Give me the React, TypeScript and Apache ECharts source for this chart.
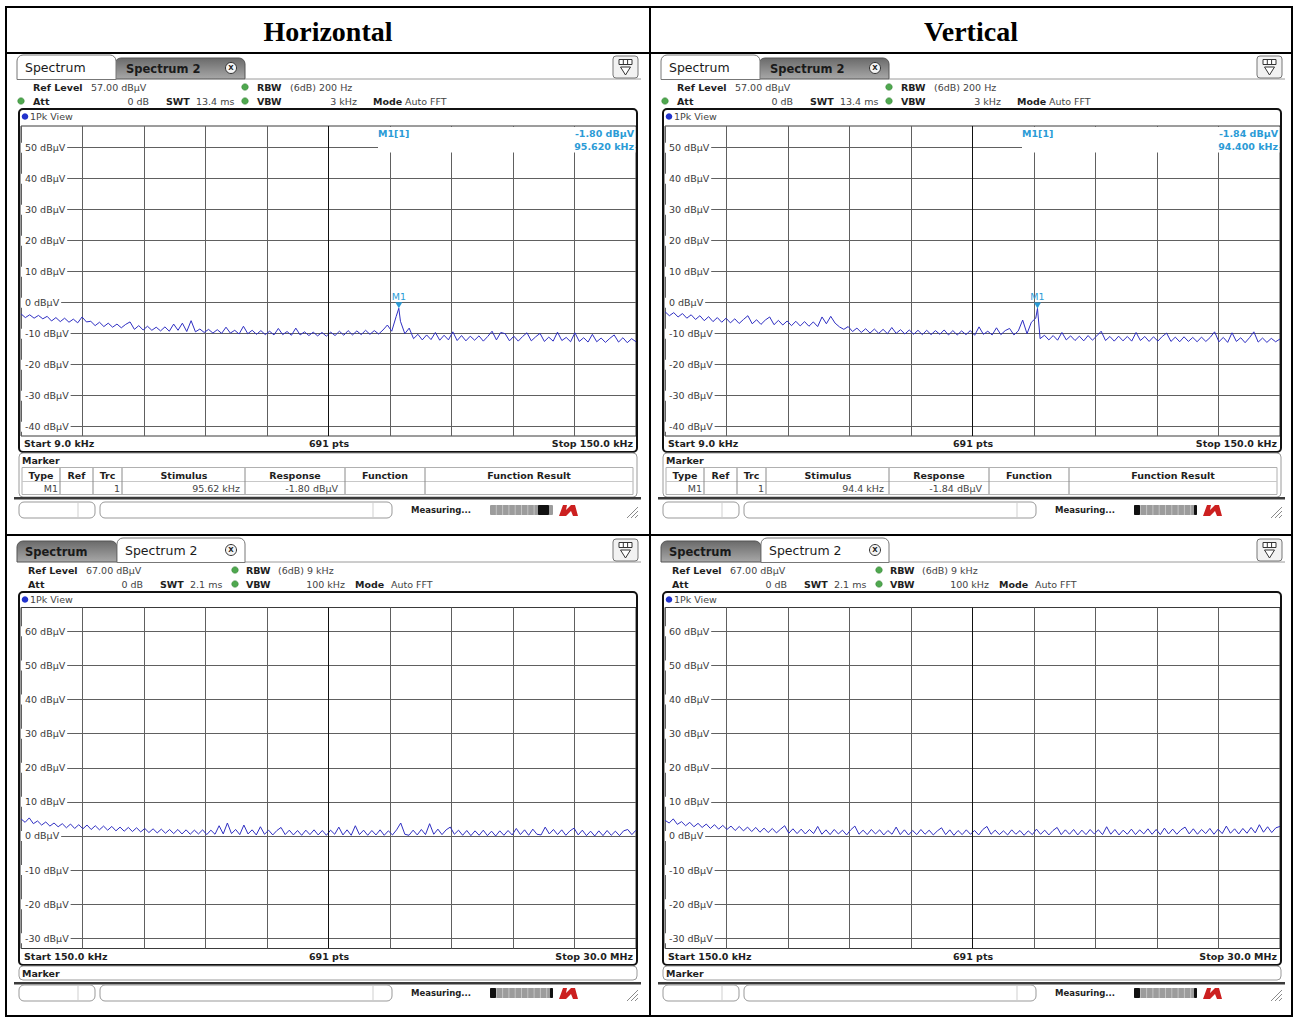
import React, { useEffect, useRef } from "react";
import * as echarts from "echarts";

// ---------- data ----------
const columnTitles = ["Horizontal", "Vertical"];
const sweepPoints = 691;
const lowStartKHz = 9;
const lowStopKHz = 150;
const highStartMHz = 0.15;
const highStopMHz = 30;
const lowRefLevel = 57;
const highRefLevel = 67;
const lowRbw = "(6dB) 200 Hz";
const lowVbw = "3 kHz";
const lowSwt = "13.4 ms";
const highRbw = "(6dB) 9 kHz";
const highVbw = "100 kHz";
const highSwt = "2.1 ms";
const lowYTicks = [50, 40, 30, 20, 10, 0, -10, -20, -30, -40];
const highYTicks = [60, 50, 40, 30, 20, 10, 0, -10, -20, -30];
const horizMarker = [95.62, -1.8];
const vertMarker = [94.4, -1.84];

// 9 kHz .. 150 kHz, 1 kHz steps (dBµV)
const horizLowTrace = [
  -3.6, -4.8, -3.9, -5.0, -4.1, -5.2,
  -4.4, -5.9, -4.8, -6.1, -5.0, -6.3, -5.3, -6.5,
  -4.6, -6.2,
  -6.0, -7.4, -6.3, -7.7, -6.6, -7.9, -6.9, -8.1, -7.0,
  -6.2,
  -8.6, -7.4, -8.8, -7.6, -8.9, -7.9, -9.1, -7.8, -9.2,
  -6.9, -8.9, -6.6, -9.3, -5.8, -9.4, -8.5, -9.6, -8.6, -9.8,
  -8.7, -9.9, -7.9, -9.8, -8.9, -10.1, -7.6, -10.0, -8.9, -10.2,
  -9.0, -10.3, -9.2, -10.4, -8.3, -10.3, -9.3, -10.5, -8.2, -10.4,
  -9.4, -10.6, -9.5, -10.7, -9.6, -10.8, -9.5, -10.6, -9.2, -10.5,
  -9.0, -10.4, -9.1, -10.3, -8.9, -10.2, -9.0, -10.1, -8.8, -7.2,
  -9.2, -4.5, -6.0, -10.0, -8.2, -11.6, -10.2, -12.0, -10.4, -11.9,
  -9.6, -12.1, -10.5, -12.0, -9.4, -12.2, -10.6, -12.3, -10.8, -12.1,
  -10.7, -12.4, -10.9, -9.2, -12.0, -9.6, -10.0, -12.3, -10.8, -12.4,
  -10.9, -9.7, -12.3, -11.0, -9.9, -12.5, -11.1, -12.4, -9.5, -12.2,
  -11.2, -12.6, -9.7, -12.5, -11.3, -12.7, -10.2, -12.6, -11.4, -12.8,
  -11.5, -10.4, -12.7, -11.3, -12.9, -11.6, -12.6,
];
const vertLowTrace = [
  -2.9, -4.2, -3.2, -4.6, -3.5, -5.0,
  -3.9, -5.4, -4.2, -5.8, -4.5, -6.1, -4.8, -6.3,
  -5.0, -6.5, -5.2, -6.7, -5.4, -4.2, -6.8, -5.5,
  -7.0, -5.6, -4.6, -7.1, -5.7, -7.2, -5.9, -7.4, -6.0, -7.5,
  -6.1, -7.6, -6.2, -7.7, -4.6, -6.8, -4.4, -6.6,
  -7.8, -8.6, -7.7, -9.3, -8.2, -9.6, -8.4, -9.8, -8.5, -9.9, -8.6, -10.0,
  -8.0, -9.9, -8.7, -10.1, -8.8, -10.2, -8.9, -10.3, -8.9, -10.3,
  -9.0, -10.2, -8.8, -10.4, -9.0, -10.4, -9.1, -10.3, -9.0, -10.5,
  -7.8, -10.2, -9.2, -10.4, -8.1, -10.3, -9.0, -8.3, -10.4, -9.1,
  -5.6, -10.0, -6.3, -5.0,
  -11.6, -10.5, -12.0, -10.6, -12.1, -9.6, -12.0, -10.7, -12.2, -10.8,
  -12.3, -10.6, -12.1, -10.7, -9.2, -12.2,
  -10.9, -12.4, -10.8, -12.3, -10.9, -12.4, -9.6, -12.2, -10.9, -12.5,
  -11.0, -12.4, -10.9, -9.8, -12.5, -11.1, -12.6, -11.0, -12.5, -11.2,
  -12.6, -11.1, -12.5, -11.2, -9.4, -12.6, -11.2, -12.8, -9.7, -12.5,
  -11.3, -12.9, -11.3, -9.4, -12.7, -11.4, -12.8, -11.5, -12.6, -11.7,
];
// 0.15 MHz .. 30 MHz, 150 evenly spaced points (dBµV)
const horizHighTrace = [
  5.0, 4.0, 5.3, 3.6, 4.4, 3.2, 4.1, 2.9, 3.8, 2.7,
  3.6, 2.4, 3.5, 2.2, 3.3, 2.1, 3.2, 1.9, 3.0, 1.8,
  2.9, 1.7, 2.8, 1.5, 2.6, 1.4, 2.5, 1.3, 2.4, 1.2,
  2.2, 1.0, 2.1, 0.9, 2.0, 0.8, 1.9, 0.7, 1.9, 0.6,
  1.8, 0.5, 1.7, 0.6, 1.8, 0.4, 1.7, 0.5, 3.0, 0.6,
  3.8, 0.7, 1.9, 0.4, 3.2, 0.6, 1.8, 0.3, 2.7, 0.5,
  1.7, 0.3, 1.6, 2.5, 0.4, 1.7, 0.3, 1.6, 0.2, 1.7,
  0.4, 1.8, 0.3, 1.6, 0.2, 1.7, 0.5, 2.6, 0.3, 1.8,
  0.2, 3.0, 0.4, 1.7, 0.2, 1.6, 0.3, 1.8, 0.2, 1.5,
  0.3, 1.8, 3.8, 0.5, 0.2, 1.7, 0.3, 1.9, 0.4, 3.6,
  0.5, 2.0, 0.4, 1.8, 2.6, 0.5, 1.7, 0.2, 1.6, 0.1,
  1.5, 0.2, 1.7, 0.1, 1.4, 0.0, 1.5, 0.2, 1.6, 0.3,
  2.2, 0.4, 1.8, 0.2, 2.0, 0.5, 0.3, 2.6, 0.6, 1.9,
  0.4, 1.8, 0.2, 1.5, 2.3, 0.3, 1.7, 0.1, 1.4, 0.0,
  1.5, 0.1, 1.6, 0.2, 1.4, 0.1, 1.5, 1.9, 0.4, 1.7,
];
const vertHighTrace = [
  4.6, 3.8, 5.0, 3.4, 4.2, 3.0, 4.0, 2.7, 3.7, 2.5,
  3.5, 2.2, 3.3, 2.0, 3.1, 1.9, 2.9, 1.6, 2.8, 1.5,
  2.6, 1.3, 2.5, 1.1, 2.3, 1.0, 2.2, 0.9, 2.0, 3.0,
  0.8, 2.1, 0.7, 2.0, 0.6, 1.9, 0.7, 2.8, 0.5, 1.8,
  0.4, 1.9, 0.6, 1.7, 0.3, 1.8, 2.9, 0.5, 1.7, 0.4,
  1.9, 0.6, 1.8, 0.3, 1.6, 0.5, 2.6, 0.4, 1.8, 0.3,
  1.6, 0.4, 1.9, 0.5, 1.7, 0.3, 1.5, 2.4, 0.4, 1.8,
  0.2, 1.6, 0.4, 1.8, 0.5, 1.6, 0.3, 1.9, 2.8, 0.5,
  1.7, 0.4, 1.5, 0.3, 1.8, 0.5, 1.6, 0.2, 1.5, 0.4,
  2.0, 0.5, 1.7, 0.3, 1.6, 2.5, 0.4, 1.8, 0.5, 1.9,
  0.3, 1.7, 0.4, 1.9, 0.6, 1.8, 0.4, 2.7, 0.5, 1.9,
  0.3, 1.7, 0.5, 2.0, 0.4, 1.8, 0.6, 2.1, 0.5, 1.9,
  0.4, 2.3, 0.6, 2.0, 0.5, 1.8, 2.6, 0.6, 2.1, 0.5,
  1.9, 0.7, 2.2, 0.5, 2.0, 0.7, 2.9, 0.8, 2.1, 0.6,
  2.2, 0.8, 2.5, 0.9, 3.3, 1.1, 2.7, 1.0, 2.4, 2.8,
];

// ---------- styling ----------
const FONT_NAME = "DejaVu Sans";
const FONT = '"DejaVu Sans", Verdana, sans-serif';
const C_TRACE = "#2f2fc2";
const C_MARK = "#2b9bd6";
const C_GRID = "#606060";

const fnt = (s: number, b = false) => `${b ? "bold " : ""}${s}px ${FONT}`;

function txt(x: number, y: number, text: string, size: number, o: any = {}) {
  return {
    type: "text",
    x,
    y,
    z: o.z ?? 2,
    silent: true,
    style: {
      text,
      font: o.font ?? fnt(size, o.bold),
      fill: o.color ?? "#333",
      textAlign: o.align ?? "left",
      textVerticalAlign: "middle",
    },
  };
}
function rect(x: number, y: number, w: number, h: number, style: any, r: any = 0, z = 1) {
  return { type: "rect", z, silent: true, shape: { x, y, width: w, height: h, r }, style };
}
function ln(x1: number, y1: number, x2: number, y2: number, stroke: string, lineWidth = 1, z = 1) {
  return { type: "line", z, silent: true, shape: { x1, y1, x2, y2 }, style: { stroke, lineWidth } };
}

function buildTrace(values: number[], start: number, stop: number, marker: number[] | null) {
  const step = (stop - start) / (values.length - 1);
  const pts = values.map((v, i) => [start + i * step, v]);
  if (marker) {
    pts.push([marker[0], marker[1]]);
    pts.sort((a, b) => a[0] - b[0]);
  }
  return pts;
}

const topLayout = { refX: 33, refValX: 91, dot1X: 245, rbwX: 257, rbwValX: 290, attX: 33, attValR: 149, swtX: 166, swtValX: 196, dot2X: 245, vbwX: 257, vbwValR: 357, modeX: 373, modeValX: 405 };
const botLayout = { refX: 28, refValX: 86, dot1X: 235, rbwX: 246, rbwValX: 278, attX: 28, attValR: 143, swtX: 160, swtValX: 190, dot2X: 235, vbwX: 246, vbwValR: 345, modeX: 355, modeValX: 391 };

function panelElements(dx: number, dy: number, p: any) {
  const els: any[] = [];
  const X = (x: number) => x + dx;
  const Y = (y: number) => y + dy;
  const L = p.row === 0 ? topLayout : botLayout;
  const grad = () =>
    new echarts.graphic.LinearGradient(0, 0, 0, 1, [
      { offset: 0, color: "#6a6a6a" },
      { offset: 1, color: "#a8a8a8" },
    ]);
  const closeBtn = (cx: number, cy: number) => [
    { type: "circle", z: 4, silent: true, shape: { cx: X(cx), cy: Y(cy), r: 5.5 }, style: { fill: "#f4f4f4", stroke: "#333", lineWidth: 1 } },
    txt(X(cx), Y(cy), "X", 7, { bold: true, align: "center", color: "#222", z: 5 }),
  ];
  // tabs
  if (p.activeTab === 0) {
    els.push(rect(X(115), Y(58), 130, 21, { fill: grad(), stroke: "#555", lineWidth: 1 }, [6, 6, 0, 0], 1));
    els.push(txt(X(126), Y(68.5), "Spectrum 2", 11.5, { bold: true, color: "#1a1a1a", z: 3 }));
    els.push(...closeBtn(231, 68));
    els.push(rect(X(17), Y(55), 99, 24.5, { fill: "#fff", stroke: "#777", lineWidth: 1 }, [6, 6, 0, 0], 3));
    els.push(txt(X(25), Y(67), "Spectrum", 12.5, { color: "#1a1a1a", z: 4 }));
  } else {
    els.push(rect(X(17), Y(58), 100, 21, { fill: grad(), stroke: "#555", lineWidth: 1 }, [6, 6, 0, 0], 1));
    els.push(txt(X(25), Y(68.5), "Spectrum", 11.5, { bold: true, color: "#1a1a1a", z: 3 }));
    els.push(rect(X(117), Y(55), 128, 24.5, { fill: "#fff", stroke: "#777", lineWidth: 1 }, [6, 6, 0, 0], 3));
    els.push(txt(X(125), Y(67), "Spectrum 2", 12.5, { color: "#1a1a1a", z: 4 }));
    els.push(...closeBtn(231, 67));
  }
  els.push(ln(X(245), Y(79), X(641), Y(79), "#9a9a9a"));
  // icon top right
  els.push(rect(X(613), Y(56), 25, 22, { fill: "#f2f2f2", stroke: "#777", lineWidth: 1 }, 3, 1));
  els.push(rect(X(619), Y(59.5), 13, 5, { fill: "#fff", stroke: "#333", lineWidth: 1 }, 0, 2));
  els.push(ln(X(623.3), Y(59.5), X(623.3), Y(64.5), "#333", 1, 3));
  els.push(ln(X(627.6), Y(59.5), X(627.6), Y(64.5), "#333", 1, 3));
  els.push({ type: "polygon", z: 2, silent: true, shape: { points: [[X(620.5), Y(67)], [X(630.5), Y(67)], [X(625.5), Y(75)]] }, style: { fill: "#fff", stroke: "#333", lineWidth: 1 } });

  // info rows
  const dot = (x: number, y: number) => ({
    type: "circle", z: 2, silent: true, shape: { cx: X(x), cy: Y(y), r: 3.3 },
    style: { fill: "#4fa84f", stroke: "#2f7a2f", lineWidth: 0.5 },
  });
  const info = (x: number, y: number, t: string, bold: boolean) => txt(X(x), Y(y), t, 9.5, { bold, color: bold ? "#1e1e1e" : "#444" });
  els.push(info(L.refX, 87, "Ref Level", true));
  els.push(info(L.refValX, 87, `${p.refLevel.toFixed(2)} dBµV`, false));
  els.push(dot(L.dot1X, 87));
  els.push(info(L.rbwX, 87, "RBW", true));
  els.push(info(L.rbwValX, 87, p.rbw, false));
  if (p.row === 0) els.push(dot(21, 101));
  els.push(info(L.attX, 101, "Att", true));
  els.push(txt(X(L.attValR), Y(101), "0 dB", 9.5, { align: "right", color: "#444" }));
  els.push(info(L.swtX, 101, "SWT", true));
  els.push(info(L.swtValX, 101, p.swt, false));
  els.push(dot(L.dot2X, 101));
  els.push(info(L.vbwX, 101, "VBW", true));
  els.push(txt(X(L.vbwValR), Y(101), p.vbw, 9.5, { align: "right", color: "#444" }));
  els.push(info(L.modeX, 101, "Mode", true));
  els.push(info(L.modeValX, 101, "Auto FFT", false));

  // diagram frame
  els.push(rect(X(19), Y(109), 618, p.frameH, { fill: "none", stroke: "#111", lineWidth: 2 }, 4, 1));
  els.push({ type: "circle", z: 2, silent: true, shape: { cx: X(25), cy: Y(116.5), r: 3.3 }, style: { fill: "#2233cc" } });
  els.push(txt(X(30), Y(116.5), "1Pk View", 9.5, { color: "#444" }));
  els.push(txt(X(24), Y(p.stripY), p.startLabel, 9.5, { bold: true, color: "#1e1e1e" }));
  els.push(txt(X(329), Y(p.stripY), `${sweepPoints} pts`, 9.5, { bold: true, color: "#1e1e1e", align: "center" }));
  els.push(txt(X(633), Y(p.stripY), p.stopLabel, 9.5, { bold: true, color: "#1e1e1e", align: "right" }));

  // marker panel
  if (p.marker) {
    const m = p.marker;
    els.push(rect(X(378), Y(127), 257.5, 25.5, { fill: "#fff" }, 0, 10));
    els.push(txt(X(378), Y(133), "M1[1]", 9.5, { bold: true, color: C_MARK, z: 11 }));
    els.push(txt(X(634), Y(133), `${m[1].toFixed(2)} dBµV`, 9.5, { bold: true, color: C_MARK, align: "right", z: 11 }));
    els.push(txt(X(634), Y(146), `${m[0].toFixed(3)} kHz`, 9.5, { bold: true, color: C_MARK, align: "right", z: 11 }));

    els.push(rect(X(19), Y(453), 618, 44, { fill: "none", stroke: "#9a9a9a", lineWidth: 1 }, 4, 1));
    els.push(txt(X(22), Y(460.5), "Marker", 9.5, { bold: true, color: "#1e1e1e" }));
    els.push(rect(X(22), Y(467.5), 611, 27, { fill: "none", stroke: "#b0b0b0", lineWidth: 1 }, 0, 1));
    els.push(ln(X(22), Y(481.5), X(633), Y(481.5), "#c8c8c8"));
    const seps = [60, 93, 122, 245, 345, 425];
    seps.forEach((s) => els.push(ln(X(s), Y(468), X(s), Y(494), "#8a8a8a")));
    const heads: [number, string][] = [[41, "Type"], [76.5, "Ref"], [107.5, "Trc"], [184, "Stimulus"], [295, "Response"], [385, "Function"], [529, "Function Result"]];
    heads.forEach(([x, t]) => els.push(txt(X(x), Y(475), t, 9.5, { bold: true, color: "#1e1e1e", align: "center" })));
    els.push(txt(X(58), Y(488.5), "M1", 9.5, { align: "right", color: "#444" }));
    els.push(txt(X(120), Y(488.5), "1", 9.5, { align: "right", color: "#444" }));
    els.push(txt(X(240), Y(488.5), `${m[0]} kHz`, 9.5, { align: "right", color: "#444" }));
    els.push(txt(X(338), Y(488.5), `${m[1].toFixed(2)} dBµV`, 9.5, { align: "right", color: "#444" }));
  } else {
    els.push(rect(X(19), Y(483), 618, 14, { fill: "none", stroke: "#9a9a9a", lineWidth: 1 }, 4, 1));
    els.push(txt(X(22), Y(490), "Marker", 9.5, { bold: true, color: "#1e1e1e" }));
  }
  // dark bar
  els.push(rect(X(14), Y(p.marker ? 497 : 499), 627, 2.5, { fill: "#3a3a3a" }, 0, 1));
  // status bar
  const sy = 502;
  els.push(rect(X(19), Y(sy), 76, 16, { fill: "#fff", stroke: "#999", lineWidth: 1 }, 5, 1));
  els.push(ln(X(78), Y(sy + 1), X(78), Y(sy + 15), "#cfcfcf"));
  els.push(rect(X(100), Y(sy), 292, 16, { fill: "#fff", stroke: "#999", lineWidth: 1 }, 5, 1));
  els.push(ln(X(373), Y(sy + 1), X(373), Y(sy + 15), "#cfcfcf"));
  els.push(txt(X(411), Y(sy + 8), "Measuring...", 8.5, { bold: true, color: "#222" }));
  els.push(rect(X(490), Y(sy + 3), 63, 10, { fill: "#9c9c9c" }, 1, 1));
  for (let i = 1; i < 10; i++) els.push(ln(X(490 + i * 6.3), Y(sy + 3), X(490 + i * 6.3), Y(sy + 13), "#c4c4c4", 1, 2));
  if (p.progress === "right") {
    els.push(rect(X(538), Y(sy + 3), 11, 10, { fill: "#111" }, 1, 3));
  } else {
    els.push(rect(X(490), Y(sy + 3), 6, 10, { fill: "#111" }, 1, 3));
    els.push(rect(X(550), Y(sy + 3), 3, 10, { fill: "#111" }, 1, 3));
  }
  els.push({
    type: "polygon", z: 2, silent: true,
    shape: { points: [[X(559), Y(sy + 14)], [X(563), Y(sy + 3)], [X(567), Y(sy + 3)], [X(566), Y(sy + 8)], [X(571), Y(sy + 3)], [X(575), Y(sy + 3)], [X(578), Y(sy + 14)], [X(573), Y(sy + 14)], [X(571), Y(sy + 9)], [X(566), Y(sy + 14)]] },
    style: { fill: "#cc2020" },
  });
  [0, 4, 8].forEach((o) => els.push(ln(X(627 + o), Y(sy + 16), X(638), Y(sy + 5 + o), "#8a8a8a")));
  return els;
}

const panelDefs = [
  { col: 0, row: 0, trace: horizLowTrace, marker: horizMarker, progress: "right" },
  { col: 1, row: 0, trace: vertLowTrace, marker: vertMarker, progress: "left" },
  { col: 0, row: 1, trace: horizHighTrace, marker: null, progress: "left" },
  { col: 1, row: 1, trace: vertHighTrace, marker: null, progress: "left" },
];

function buildOption() {
  const grids: any[] = [];
  const xAxes: any[] = [];
  const yAxes: any[] = [];
  const series: any[] = [];
  const graphics: any[] = [];

  // outer table
  graphics.push(rect(6, 7, 1286, 1009, { fill: "none", stroke: "#000", lineWidth: 2 }, 0, 20));
  graphics.push(ln(650, 7, 650, 1016, "#000", 2, 20));
  graphics.push(ln(6, 53, 1292, 53, "#000", 2, 20));
  graphics.push(ln(6, 535, 1292, 535, "#000", 2, 20));
  graphics.push(txt(328, 31, columnTitles[0], 28, { font: 'bold 28px "Liberation Serif", "Times New Roman", serif', align: "center", color: "#000" }));
  graphics.push(txt(971, 31, columnTitles[1], 28, { font: 'bold 28px "Liberation Serif", "Times New Roman", serif', align: "center", color: "#000" }));

  panelDefs.forEach((pd, i) => {
    const low = pd.row === 0;
    const dx = pd.col * 644;
    const dy = pd.row * 483;
    const start = low ? lowStartKHz : highStartMHz;
    const stop = low ? lowStopKHz : highStopMHz;
    const ref = low ? lowRefLevel : highRefLevel;
    const ticks = low ? lowYTicks : highYTicks;
    grids.push({
      left: 21 + dx,
      top: low ? 126 : 607.5,
      width: 615,
      height: low ? 310 : 341,
      show: true,
      borderColor: "#3a3a3a",
      borderWidth: 1,
      backgroundColor: "transparent",
      containLabel: false,
    });
    xAxes.push({
      type: "value",
      gridIndex: i,
      min: start,
      max: stop,
      interval: (stop - start) / 10,
      axisLine: { show: false },
      axisTick: { show: false },
      axisLabel: { show: false },
      splitLine: { show: true, lineStyle: { color: C_GRID, width: 1 } },
    });
    yAxes.push({
      type: "value",
      gridIndex: i,
      min: ref - 100,
      max: ref,
      axisLine: { show: false },
      axisTick: { show: false, customValues: ticks },
      axisLabel: {
        inside: true,
        margin: 0,
        customValues: ticks,
        formatter: "{value} dBµV",
        color: "#3a3a3a",
        fontSize: 9.5,
        fontFamily: FONT_NAME,
        backgroundColor: "#fff",
        padding: [0, 2, 0, 4],
      },
      splitLine: { show: true, lineStyle: { color: C_GRID, width: 1 } },
    });
    const s: any = {
      type: "line",
      xAxisIndex: i,
      yAxisIndex: i,
      data: buildTrace(pd.trace, start, stop, pd.marker),
      showSymbol: false,
      symbol: "none",
      silent: true,
      lineStyle: { color: C_TRACE, width: 1 },
      markLine: {
        silent: true,
        symbol: ["none", "none"],
        label: { show: false },
        lineStyle: { color: "#111", type: "solid", width: 1 },
        data: [{ xAxis: (start + stop) / 2 }],
      },
    };
    if (pd.marker) {
      s.markPoint = {
        silent: true,
        symbol: "triangle",
        symbolRotate: 180,
        symbolSize: [7, 6],
        symbolOffset: [0, -3],
        itemStyle: { color: C_MARK },
        label: { show: true, position: "top", distance: 1, formatter: "M1", color: C_MARK, fontSize: 9.5, fontFamily: FONT_NAME },
        data: [{ coord: pd.marker }],
      };
    }
    series.push(s);

    graphics.push(
      ...panelElements(dx, dy, {
        row: pd.row,
        activeTab: low ? 0 : 1,
        refLevel: ref,
        rbw: low ? lowRbw : highRbw,
        vbw: low ? lowVbw : highVbw,
        swt: low ? lowSwt : highSwt,
        frameH: low ? 343 : 373,
        stripY: low ? 443 : 473,
        startLabel: low ? `Start ${lowStartKHz.toFixed(1)} kHz` : `Start ${(highStartMHz * 1000).toFixed(1)} kHz`,
        stopLabel: low ? `Stop ${lowStopKHz.toFixed(1)} kHz` : `Stop ${highStopMHz.toFixed(1)} MHz`,
        marker: pd.marker,
        progress: pd.progress,
      })
    );
  });

  return {
    animation: false,
    backgroundColor: "#fff",
    grid: grids,
    xAxis: xAxes,
    yAxis: yAxes,
    series,
    graphic: { elements: graphics },
  };
}

export default function App() {
  const ref = useRef<HTMLDivElement>(null);
  useEffect(() => {
    if (!ref.current) return;
    const chart = echarts.init(ref.current, null, { renderer: "svg" });
    chart.setOption(buildOption() as any);
    return () => chart.dispose();
  }, []);
  return (
    <div
      ref={ref}
      style={{ position: "fixed", left: 0, top: 0, width: 1293, height: 1017, background: "#fff" }}
    />
  );
}
